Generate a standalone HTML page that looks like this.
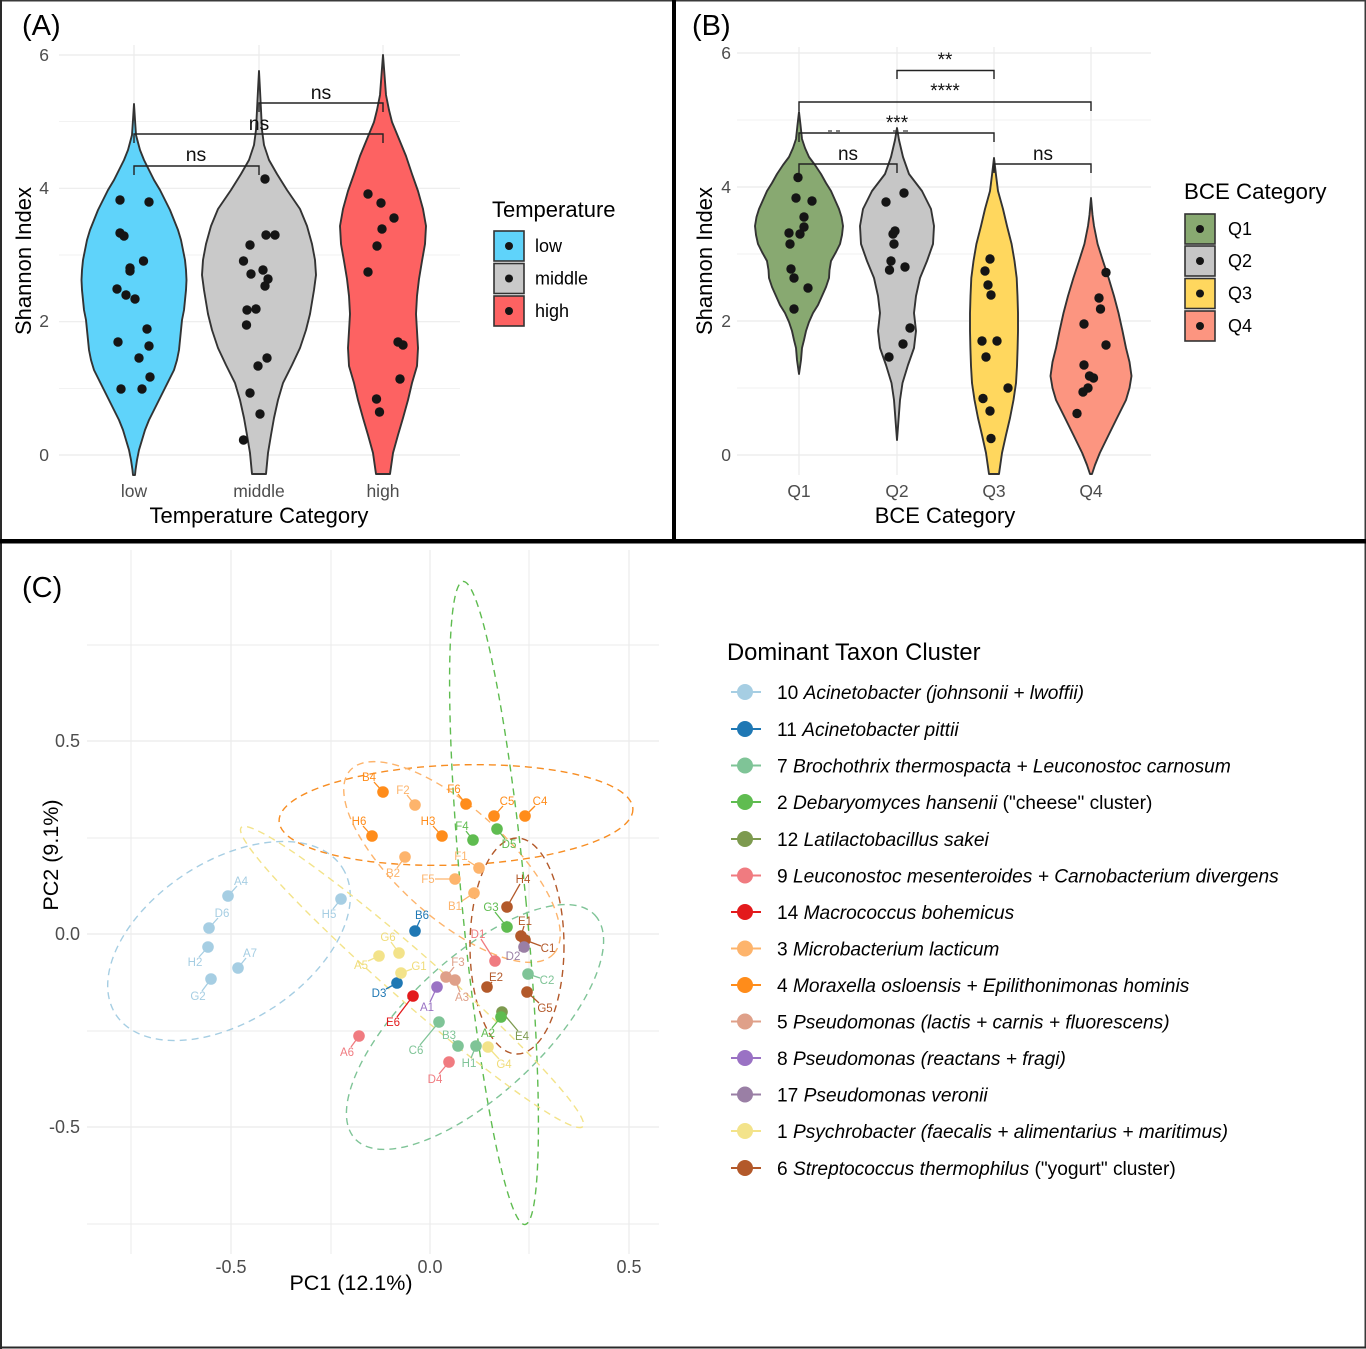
<!DOCTYPE html>
<html>
<head>
<meta charset="utf-8">
<style>
html,body{margin:0;padding:0;background:#fff;}
svg{display:block;}
text{font-family:"Liberation Sans",Arial,sans-serif;}
</style>
</head>
<body>
<svg width="1366" height="1349" viewBox="0 0 1366 1349" xmlns="http://www.w3.org/2000/svg">
<rect x="0" y="0" width="1366" height="1349" fill="#fff"/>

<!-- ================= PANEL A ================= -->
<g stroke="#ebebeb" fill="none">
  <g stroke-width="1.2">
    <line x1="59" y1="455" x2="460" y2="455"/>
    <line x1="59" y1="321.7" x2="460" y2="321.7"/>
    <line x1="59" y1="188.3" x2="460" y2="188.3"/>
    <line x1="59" y1="55" x2="460" y2="55"/>
    <line x1="134" y1="45" x2="134" y2="475"/>
    <line x1="259" y1="45" x2="259" y2="475"/>
    <line x1="383" y1="45" x2="383" y2="475"/>
  </g>
  <g stroke-width="0.7">
    <line x1="59" y1="388.3" x2="460" y2="388.3"/>
    <line x1="59" y1="255" x2="460" y2="255"/>
    <line x1="59" y1="121.7" x2="460" y2="121.7"/>
  </g>
</g>

<g stroke="#333" stroke-width="1.9" stroke-linejoin="round">
<path fill="#5fd3fa" d="M134,104 L135,120 L136,135 L140,150 L144,160 L149,170 L154,180 L160,190 L165,200 L170,210 L174,220 L178,230 L181,240 L183,250 L185,260 L186,270 L186.5,280 L186,290 L185,300 L184,310 L182,320 L181,330 L180,340 L179,350 L177,360 L174,370 L169,380 L164,390 L159,400 L154,410 L149,420 L145,430 L142,440 L139,450 L137,460 L135.5,470 L135,475 L133,475 L132.5,470 L131,460 L129,450 L126,440 L123,430 L119,420 L114,410 L109,400 L104,390 L99,380 L94,370 L91,360 L89,350 L88,340 L87,330 L86,320 L84,310 L83,300 L82,290 L81.5,280 L82,270 L83,260 L85,250 L87,240 L90,230 L94,220 L98,210 L103,200 L108,190 L114,180 L119,170 L124,160 L128,150 L132,135 L133,120 Z"/>
<path fill="#c9c9c9" d="M259,71 L260,90 L261,110 L262,130 L264,145 L269,160 L277,174 L287,190 L300,209 L307,226 L312,244 L315,260 L316,275 L314,290 L310,314 L306,330 L300,348 L292,365 L283,383 L278,400 L274,418 L271,435 L268,453 L266,474 L252,474 L250,453 L247,435 L244,418 L240,400 L235,383 L226,365 L218,348 L212,330 L208,314 L204,290 L202,275 L203,260 L206,244 L211,226 L218,209 L231,190 L241,174 L249,160 L254,145 L256,130 L257,110 L258,90 Z"/>
<path fill="#fd6262" d="M383,55 L384.5,75 L386,95 L389,110 L392,122 L399,139 L406,156 L412,174 L418,191 L423,209 L426,226 L425,244 L422,261 L419,279 L417,296 L416,314 L417,331 L418,348 L417,366 L412,383 L408,400 L403,418 L398,435 L393,453 L390,474 L376,474 L373,453 L368,435 L363,418 L358,400 L354,383 L349,366 L348,348 L349,331 L350,314 L349,296 L347,279 L344,261 L341,244 L340,226 L343,209 L348,191 L354,174 L360,156 L367,139 L374,122 L377,110 L380,95 L381.5,75 Z"/>
</g>

<g fill="#151515">
<circle cx="120" cy="200" r="4.7"/><circle cx="149" cy="202" r="4.7"/><circle cx="120" cy="233" r="4.7"/><circle cx="124" cy="236" r="4.7"/><circle cx="143.5" cy="261" r="4.7"/><circle cx="130" cy="268" r="4.7"/><circle cx="130" cy="271" r="4.7"/><circle cx="117" cy="289" r="4.7"/><circle cx="126" cy="295" r="4.7"/><circle cx="135" cy="299" r="4.7"/><circle cx="147" cy="329" r="4.7"/><circle cx="118" cy="342" r="4.7"/><circle cx="149" cy="346" r="4.7"/><circle cx="139" cy="358" r="4.7"/><circle cx="150" cy="377" r="4.7"/><circle cx="121" cy="389" r="4.7"/><circle cx="142" cy="389" r="4.7"/>
<circle cx="265" cy="179" r="4.7"/><circle cx="250" cy="245" r="4.7"/><circle cx="266" cy="235" r="4.7"/><circle cx="275" cy="235" r="4.7"/><circle cx="243.5" cy="261" r="4.7"/><circle cx="251" cy="274" r="4.7"/><circle cx="263" cy="270" r="4.7"/><circle cx="268" cy="279" r="4.7"/><circle cx="265" cy="286" r="4.7"/><circle cx="247" cy="310" r="4.7"/><circle cx="256" cy="309" r="4.7"/><circle cx="246.5" cy="325" r="4.7"/><circle cx="267" cy="358" r="4.7"/><circle cx="258" cy="366" r="4.7"/><circle cx="250" cy="393" r="4.7"/><circle cx="260" cy="414" r="4.7"/><circle cx="243.5" cy="440" r="4.7"/>
<circle cx="368" cy="194" r="4.7"/><circle cx="381" cy="203" r="4.7"/><circle cx="394" cy="218" r="4.7"/><circle cx="382" cy="229" r="4.7"/><circle cx="377" cy="246" r="4.7"/><circle cx="368" cy="272" r="4.7"/><circle cx="398" cy="342" r="4.7"/><circle cx="403" cy="345" r="4.7"/><circle cx="400" cy="379" r="4.7"/><circle cx="376.5" cy="399" r="4.7"/><circle cx="379.5" cy="412" r="4.7"/>
</g>

<!-- brackets A -->
<g stroke="#222" stroke-width="1.4" fill="none">
<path d="M134,175 V166 H259 V175"/>
<path d="M134,143 V134 H383 V143"/>
<path d="M259,112 V103 H383 V112"/>
</g>
<g font-size="19.5" fill="#111" text-anchor="middle">
<text x="196" y="161">ns</text>
<text x="259" y="130">ns</text>
<text x="321" y="99">ns</text>
</g>

<!-- axes A -->
<g font-size="17.5" fill="#4d4d4d" text-anchor="end">
<text x="49" y="61">6</text>
<text x="49" y="194">4</text>
<text x="49" y="327">2</text>
<text x="49" y="461">0</text>
</g>
<g font-size="17.5" fill="#4d4d4d" text-anchor="middle">
<text x="134" y="497">low</text>
<text x="259" y="497">middle</text>
<text x="383" y="497">high</text>
</g>
<text x="259" y="523" font-size="22" text-anchor="middle" fill="#000">Temperature Category</text>
<text transform="translate(31,261) rotate(-90)" font-size="22" text-anchor="middle" fill="#000">Shannon Index</text>
<text x="22" y="35" font-size="29" fill="#000">(A)</text>

<!-- legend A -->
<text x="492" y="217" font-size="22" fill="#000">Temperature</text>
<g stroke="#333" stroke-width="1.6">
<rect x="494" y="231" width="30" height="30" fill="#5fd3fa"/>
<rect x="494" y="263.5" width="30" height="30" fill="#c9c9c9"/>
<rect x="494" y="296" width="30" height="30" fill="#fd6262"/>
</g>
<g fill="#151515">
<circle cx="509" cy="246" r="4"/><circle cx="509" cy="278.5" r="4"/><circle cx="509" cy="311" r="4"/>
</g>
<g font-size="18" fill="#000">
<text x="535" y="252">low</text>
<text x="535" y="284.5">middle</text>
<text x="535" y="317">high</text>
</g>

<!-- ================= PANEL B ================= -->
<g stroke="#ebebeb" fill="none">
  <g stroke-width="1.2">
    <line x1="737" y1="455" x2="1151" y2="455"/>
    <line x1="737" y1="321" x2="1151" y2="321"/>
    <line x1="737" y1="187" x2="1151" y2="187"/>
    <line x1="737" y1="53" x2="1151" y2="53"/>
    <line x1="799" y1="47" x2="799" y2="475"/>
    <line x1="897" y1="47" x2="897" y2="475"/>
    <line x1="994" y1="47" x2="994" y2="475"/>
    <line x1="1091" y1="47" x2="1091" y2="475"/>
  </g>
  <g stroke-width="0.7">
    <line x1="737" y1="388" x2="1151" y2="388"/>
    <line x1="737" y1="254" x2="1151" y2="254"/>
    <line x1="737" y1="120" x2="1151" y2="120"/>
  </g>
</g>

<g stroke="#333" stroke-width="1.9" stroke-linejoin="round">
<path fill="#88a971" d="M799,112 L800.5,125 L802,139 L805,148 L809,157 L815,165 L821,174 L826,183 L831,191 L835,200 L839,209 L841.5,217 L843,226 L842,235 L840,244 L836,252 L831,261 L829.5,270 L829,278 L826,287 L822,296 L818,305 L813,313 L809,322 L806,331 L804,340 L802,348 L801,360 L799,374 L797,360 L796,348 L794,340 L792,331 L789,322 L785,313 L780,305 L776,296 L772,287 L769,278 L768.5,270 L767,261 L762,252 L758,244 L756,235 L755,226 L756.5,217 L759,209 L763,200 L767,191 L772,183 L777,174 L783,165 L789,157 L793,148 L796,139 L797.5,125 Z"/>
<path fill="#c6c6c6" d="M897,128 L899,140 L903,157 L909,174 L922,191 L931,209 L934,226 L933,244 L927,261 L920,278 L916,296 L914,313 L916,331 L914,348 L908,365 L902.5,383 L900,400 L898.5,420 L897,440 L895.5,420 L894,400 L891.5,383 L886,365 L880,348 L878,331 L880,313 L878,296 L874,278 L867,261 L861,244 L860,226 L863,209 L872,191 L885,174 L891,157 L895,140 Z"/>
<path fill="#ffd75e" d="M994,158 L996,175 L998,191 L1003,209 L1007,226 L1011.6,244 L1014.5,261 L1016.7,278 L1017.5,296 L1018,313 L1018,331 L1017.6,348 L1017,366 L1016,383 L1013.5,400 L1010,418 L1006,435 L1002,453 L999,474 L989,474 L986,453 L982,435 L978,418 L974.5,400 L972,383 L971,366 L970.4,348 L970,331 L970,313 L970.5,296 L971.3,278 L973.5,261 L976.4,244 L981,226 L985,209 L990,191 L992,175 Z"/>
<path fill="#fc9580" d="M1091,198 L1092.5,215 L1094,226 L1097.6,244 L1103,261 L1108.6,278 L1114,296 L1118.5,313 L1122.5,331 L1126,348 L1129.5,362 L1131.5,376 L1129.5,388 L1126,400 L1117,418 L1108.6,435 L1099.8,453 L1095,465 L1092,474 L1090,474 L1087,465 L1082.2,453 L1073.4,435 L1065,418 L1056,400 L1052.5,388 L1050.5,376 L1052.5,362 L1056,348 L1059.5,331 L1063.5,313 L1068,296 L1073.4,278 L1079,261 L1084.4,244 L1088,226 L1089.5,215 Z"/>
</g>

<g fill="#151515">
<circle cx="798" cy="177.5" r="4.7"/><circle cx="796" cy="198" r="4.7"/><circle cx="812" cy="201" r="4.7"/><circle cx="804" cy="217" r="4.7"/><circle cx="804" cy="227" r="4.7"/><circle cx="800" cy="234" r="4.7"/><circle cx="789" cy="233" r="4.7"/><circle cx="790" cy="244" r="4.7"/><circle cx="791" cy="269" r="4.7"/><circle cx="794" cy="278" r="4.7"/><circle cx="808" cy="288" r="4.7"/><circle cx="794" cy="309" r="4.7"/>
<circle cx="904" cy="193" r="4.7"/><circle cx="886" cy="202" r="4.7"/><circle cx="893" cy="234" r="4.7"/><circle cx="895" cy="231" r="4.7"/><circle cx="894" cy="244" r="4.7"/><circle cx="891" cy="261" r="4.7"/><circle cx="889.5" cy="270" r="4.7"/><circle cx="905" cy="267" r="4.7"/><circle cx="910" cy="328" r="4.7"/><circle cx="903" cy="344" r="4.7"/><circle cx="889" cy="357" r="4.7"/>
<circle cx="990" cy="259" r="4.7"/><circle cx="985" cy="271" r="4.7"/><circle cx="988" cy="285" r="4.7"/><circle cx="991" cy="295" r="4.7"/><circle cx="982" cy="341" r="4.7"/><circle cx="997" cy="341" r="4.7"/><circle cx="986" cy="357" r="4.7"/><circle cx="1008" cy="388" r="4.7"/><circle cx="983" cy="398.5" r="4.7"/><circle cx="990" cy="411" r="4.7"/><circle cx="991" cy="438.5" r="4.7"/>
<circle cx="1106" cy="272.5" r="4.7"/><circle cx="1099" cy="298" r="4.7"/><circle cx="1100.5" cy="309" r="4.7"/><circle cx="1084" cy="324" r="4.7"/><circle cx="1106" cy="345" r="4.7"/><circle cx="1084" cy="365" r="4.7"/><circle cx="1089.5" cy="376" r="4.7"/><circle cx="1093.5" cy="378" r="4.7"/><circle cx="1088" cy="388" r="4.7"/><circle cx="1083" cy="392" r="4.7"/><circle cx="1077" cy="413.5" r="4.7"/>
</g>

<!-- brackets B -->
<g stroke="#222" stroke-width="1.4" fill="none">
<path d="M897,79 V70.5 H994 V79"/>
<path d="M799,111 V102 H1091 V111"/>
<path d="M799,142 V133 H994 V142"/>
<path d="M799,173 V164 H897 V173"/>
<path d="M994,173 V164 H1091 V173"/>
</g>
<g stroke="#333" stroke-width="1.2">
<line x1="828" y1="131" x2="832" y2="131"/><line x1="836" y1="131" x2="840" y2="131"/>
<line x1="893" y1="131" x2="897" y2="131"/><line x1="903" y1="131" x2="908" y2="131"/>
</g>
<g font-size="19" fill="#111" text-anchor="middle">
<text x="945" y="66">**</text>
<text x="945" y="97">****</text>
<text x="897" y="129">***</text>
<text x="848" y="160">ns</text>
<text x="1043" y="160">ns</text>
</g>

<!-- axes B -->
<g font-size="17.5" fill="#4d4d4d" text-anchor="end">
<text x="731" y="59">6</text>
<text x="731" y="193">4</text>
<text x="731" y="327">2</text>
<text x="731" y="461">0</text>
</g>
<g font-size="17.5" fill="#4d4d4d" text-anchor="middle">
<text x="799" y="497">Q1</text>
<text x="897" y="497">Q2</text>
<text x="994" y="497">Q3</text>
<text x="1091" y="497">Q4</text>
</g>
<text x="945" y="523" font-size="22" text-anchor="middle" fill="#000">BCE Category</text>
<text transform="translate(712,261) rotate(-90)" font-size="22" text-anchor="middle" fill="#000">Shannon Index</text>
<text x="692" y="35" font-size="29" fill="#000">(B)</text>

<!-- legend B -->
<text x="1184" y="199" font-size="22.3" fill="#000">BCE Category</text>
<g stroke="#333" stroke-width="1.6">
<rect x="1185" y="214" width="30" height="30" fill="#88a971"/>
<rect x="1185" y="246" width="30" height="30" fill="#c6c6c6"/>
<rect x="1185" y="278.5" width="30" height="30" fill="#ffd75e"/>
<rect x="1185" y="311" width="30" height="30" fill="#fc9580"/>
</g>
<g fill="#151515">
<circle cx="1200" cy="229" r="4"/><circle cx="1200" cy="261" r="4"/><circle cx="1200" cy="293.5" r="4"/><circle cx="1200" cy="326" r="4"/>
</g>
<g font-size="18" fill="#000">
<text x="1228" y="235">Q1</text>
<text x="1228" y="267">Q2</text>
<text x="1228" y="299.5">Q3</text>
<text x="1228" y="332">Q4</text>
</g>

<!-- ================= PANEL C ================= -->
<g stroke="#ebebeb" fill="none" stroke-width="1">
<line x1="131" y1="550" x2="131" y2="1254"/>
<line x1="231" y1="550" x2="231" y2="1254" stroke-width="1.2"/>
<line x1="331" y1="550" x2="331" y2="1254"/>
<line x1="430" y1="550" x2="430" y2="1254" stroke-width="1.2"/>
<line x1="529" y1="550" x2="529" y2="1254"/>
<line x1="629" y1="550" x2="629" y2="1254" stroke-width="1.2"/>
<line x1="87" y1="645" x2="659" y2="645"/>
<line x1="87" y1="741" x2="659" y2="741" stroke-width="1.2"/>
<line x1="87" y1="838" x2="659" y2="838"/>
<line x1="87" y1="934" x2="659" y2="934" stroke-width="1.2"/>
<line x1="87" y1="1031" x2="659" y2="1031"/>
<line x1="87" y1="1127" x2="659" y2="1127" stroke-width="1.2"/>
<line x1="87" y1="1224" x2="659" y2="1224"/>
</g>

<!-- ellipses -->
<g fill="none" stroke-width="1.4" stroke-dasharray="7 5">
<ellipse cx="229" cy="941" rx="135" ry="80" transform="rotate(-33 229 941)" stroke="#a6cee3"/>
<ellipse cx="456" cy="815" rx="177" ry="50" transform="rotate(-2 456 815)" stroke="#f78d22"/>
<ellipse cx="452" cy="862" rx="137" ry="55" transform="rotate(42 452 862)" stroke="#fdb46c"/>
<ellipse cx="494" cy="903" rx="32" ry="323" transform="rotate(-5.5 494 903)" stroke="#5fbc50"/>
<ellipse cx="475" cy="1027" rx="164" ry="68" transform="rotate(-43 475 1027)" stroke="#7fc497"/>
<ellipse cx="517" cy="946" rx="47" ry="108" stroke="#b3592a"/>
<ellipse cx="412" cy="977" rx="227" ry="24" transform="rotate(41.2 412 977)" stroke="#f3e38a"/>
</g>

<!-- segments -->
<g stroke-width="1.3" fill="none">
<g stroke="#a6cee3">
<line x1="228" y1="896" x2="237" y2="886"/><line x1="209" y1="928" x2="218" y2="918"/><line x1="208" y1="947" x2="199" y2="957"/><line x1="238" y1="968" x2="246" y2="958"/><line x1="211" y1="979" x2="202" y2="991"/><line x1="341" y1="899" x2="333" y2="909"/>
</g>
<g stroke="#1f78b4"><line x1="415" y1="931" x2="420" y2="920"/><line x1="397" y1="983" x2="386" y2="989"/></g>
<g stroke="#7fc497"><line x1="528" y1="974" x2="540" y2="978"/><line x1="439" y1="1022" x2="420" y2="1045"/><line x1="458" y1="1046" x2="453" y2="1040"/><line x1="476" y1="1046" x2="471" y2="1058"/></g>
<g stroke="#5fbc50"><line x1="473" y1="840" x2="466" y2="831"/><line x1="497" y1="829" x2="505" y2="839"/><line x1="507" y1="927" x2="495" y2="912"/><line x1="501" y1="1017" x2="492" y2="1028"/></g>
<g stroke="#7d9a4f"><line x1="502" y1="1012" x2="518" y2="1031"/></g>
<g stroke="#f07b80"><line x1="359" y1="1036" x2="351" y2="1047"/><line x1="449" y1="1062" x2="439" y2="1074"/><line x1="495" y1="961" x2="481" y2="939"/></g>
<g stroke="#e31a1c"><line x1="413" y1="996" x2="397" y2="1017"/></g>
<g stroke="#fdb46c"><line x1="415" y1="805" x2="407" y2="795"/><line x1="405" y1="857" x2="397" y2="868"/><line x1="479" y1="868" x2="468" y2="861"/><line x1="455" y1="879" x2="435" y2="879"/><line x1="474" y1="893" x2="462" y2="901"/></g>
<g stroke="#ff8c1a"><line x1="383" y1="792" x2="374" y2="782"/><line x1="466" y1="804" x2="458" y2="794"/><line x1="494" y1="816" x2="503" y2="806"/><line x1="525" y1="816" x2="535" y2="806"/><line x1="372" y1="836" x2="363" y2="826"/><line x1="442" y1="836" x2="433" y2="826"/></g>
<g stroke="#dfa089"><line x1="446" y1="977" x2="454" y2="967"/><line x1="455" y1="980" x2="460" y2="992"/></g>
<g stroke="#9a72c4"><line x1="437" y1="987" x2="430" y2="1002"/></g>
<g stroke="#9a7fa5"><line x1="524" y1="947" x2="519" y2="951"/></g>
<g stroke="#f3e38a"><line x1="399" y1="953" x2="391" y2="942"/><line x1="379" y1="956" x2="368" y2="961"/><line x1="401" y1="973" x2="412" y2="969"/><line x1="488" y1="1047" x2="499" y2="1059"/></g>
<g stroke="#b3592a"><line x1="507" y1="907" x2="520" y2="884"/><line x1="521" y1="936" x2="524" y2="926"/><line x1="525" y1="940" x2="541" y2="946"/><line x1="487" y1="987" x2="492" y2="982"/><line x1="527" y1="992" x2="539" y2="1003"/></g>
</g>

<!-- points -->
<g>
<g fill="#a6cee3"><circle cx="228" cy="896" r="5.8"/><circle cx="209" cy="928" r="5.8"/><circle cx="208" cy="947" r="5.8"/><circle cx="238" cy="968" r="5.8"/><circle cx="211" cy="979" r="5.8"/><circle cx="341" cy="899" r="5.8"/></g>
<g fill="#1f78b4"><circle cx="415" cy="931" r="5.8"/><circle cx="397" cy="983" r="5.8"/></g>
<g fill="#7fc497"><circle cx="528" cy="974" r="5.8"/><circle cx="439" cy="1022" r="5.8"/><circle cx="458" cy="1046" r="5.8"/><circle cx="476" cy="1046" r="5.8"/></g>
<g fill="#5fbc50"><circle cx="473" cy="840" r="5.8"/><circle cx="497" cy="829" r="5.8"/><circle cx="507" cy="927" r="5.8"/></g>
<g fill="#7d9a4f"><circle cx="502" cy="1012" r="5.8"/></g>
<g fill="#5fbc50"><circle cx="501" cy="1017" r="5.8"/></g>
<g fill="#f07b80"><circle cx="359" cy="1036" r="5.8"/><circle cx="449" cy="1062" r="5.8"/><circle cx="495" cy="961" r="5.8"/></g>
<g fill="#e31a1c"><circle cx="413" cy="996" r="5.8"/></g>
<g fill="#fdb46c"><circle cx="415" cy="805" r="5.8"/><circle cx="405" cy="857" r="5.8"/><circle cx="479" cy="868" r="5.8"/><circle cx="455" cy="879" r="5.8"/><circle cx="474" cy="893" r="5.8"/></g>
<g fill="#ff8c1a"><circle cx="383" cy="792" r="5.8"/><circle cx="466" cy="804" r="5.8"/><circle cx="494" cy="816" r="5.8"/><circle cx="525" cy="816" r="5.8"/><circle cx="372" cy="836" r="5.8"/><circle cx="442" cy="836" r="5.8"/></g>
<g fill="#dfa089"><circle cx="446" cy="977" r="5.8"/><circle cx="455" cy="980" r="5.8"/></g>
<g fill="#9a72c4"><circle cx="437" cy="987" r="5.8"/></g>
<g fill="#f3e38a"><circle cx="399" cy="953" r="5.8"/><circle cx="379" cy="956" r="5.8"/><circle cx="401" cy="973" r="5.8"/><circle cx="488" cy="1047" r="5.8"/></g>
<g fill="#b3592a"><circle cx="507" cy="907" r="5.8"/><circle cx="521" cy="936" r="5.8"/><circle cx="525" cy="940" r="5.8"/><circle cx="487" cy="987" r="5.8"/><circle cx="527" cy="992" r="5.8"/></g>
<g fill="#9a7fa5"><circle cx="524" cy="947" r="5.8"/></g>
</g>

<!-- point labels -->
<g font-size="11.5" text-anchor="middle">
<g fill="#a6cee3"><text x="241" y="885">A4</text><text x="222" y="917">D6</text><text x="195" y="966">H2</text><text x="250" y="957">A7</text><text x="198" y="1000">G2</text><text x="329" y="918">H5</text></g>
<g fill="#1f78b4"><text x="422" y="919">B6</text><text x="379" y="997">D3</text></g>
<g fill="#7fc497"><text x="547" y="984">C2</text><text x="416" y="1054">C6</text><text x="449" y="1039">B3</text><text x="469" y="1067">H1</text></g>
<g fill="#5fbc50"><text x="462" y="830">F4</text><text x="509" y="848">D5</text><text x="491" y="911">G3</text><text x="488" y="1037">A2</text></g>
<g fill="#7d9a4f"><text x="522" y="1040">E4</text></g>
<g fill="#f07b80"><text x="347" y="1056">A6</text><text x="435" y="1083">D4</text><text x="478" y="938">D1</text></g>
<g fill="#e31a1c"><text x="393" y="1026">E6</text></g>
<g fill="#fdb46c"><text x="403" y="794">F2</text><text x="393" y="877">B2</text><text x="461" y="860">F1</text><text x="428" y="883">F5</text><text x="455" y="910">B1</text></g>
<g fill="#ff8c1a"><text x="369" y="781">B4</text><text x="454" y="793">F6</text><text x="507" y="805">C5</text><text x="540" y="805">C4</text><text x="359" y="825">H6</text><text x="428" y="825">H3</text></g>
<g fill="#dfa089"><text x="458" y="966">F3</text><text x="462" y="1001">A3</text></g>
<g fill="#9a72c4"><text x="427" y="1011">A1</text></g>
<g fill="#9a7fa5"><text x="513" y="960">D2</text></g>
<g fill="#f0dc78"><text x="388" y="941">G6</text><text x="361" y="969">A5</text><text x="419" y="970">G1</text><text x="504" y="1068">G4</text></g>
<g fill="#b3592a"><text x="523" y="883">H4</text><text x="525" y="925">E1</text><text x="548" y="952">C1</text><text x="496" y="981">E2</text><text x="545" y="1012">G5</text></g>
</g>

<!-- axes C -->
<g font-size="18" fill="#4d4d4d" text-anchor="end">
<text x="80" y="747">0.5</text>
<text x="80" y="940">0.0</text>
<text x="80" y="1133">-0.5</text>
</g>
<g font-size="18" fill="#4d4d4d" text-anchor="middle">
<text x="231" y="1273">-0.5</text>
<text x="430" y="1273">0.0</text>
<text x="629" y="1273">0.5</text>
</g>
<text x="351" y="1290" font-size="21.5" text-anchor="middle" fill="#000">PC1 (12.1%)</text>
<text transform="translate(58,855) rotate(-90)" font-size="21.5" text-anchor="middle" fill="#000">PC2 (9.1%)</text>
<text x="22" y="597" font-size="29" fill="#000">(C)</text>

<!-- legend C -->
<text x="727" y="660" font-size="23.8" fill="#000">Dominant Taxon Cluster</text>
<g stroke-width="2">
<line x1="731" y1="692" x2="761" y2="692" stroke="#a6cee3"/>
<line x1="731" y1="729" x2="761" y2="729" stroke="#1f78b4"/>
<line x1="731" y1="765.5" x2="761" y2="765.5" stroke="#7fc497"/>
<line x1="731" y1="802" x2="761" y2="802" stroke="#5fbc50"/>
<line x1="731" y1="839" x2="761" y2="839" stroke="#7d9a4f"/>
<line x1="731" y1="875.5" x2="761" y2="875.5" stroke="#f07b80"/>
<line x1="731" y1="912" x2="761" y2="912" stroke="#e31a1c"/>
<line x1="731" y1="948.5" x2="761" y2="948.5" stroke="#fdb46c"/>
<line x1="731" y1="985" x2="761" y2="985" stroke="#ff8c1a"/>
<line x1="731" y1="1021.5" x2="761" y2="1021.5" stroke="#dfa089"/>
<line x1="731" y1="1058" x2="761" y2="1058" stroke="#9a72c4"/>
<line x1="731" y1="1094.5" x2="761" y2="1094.5" stroke="#9a7fa5"/>
<line x1="731" y1="1131" x2="761" y2="1131" stroke="#f3e38a"/>
<line x1="731" y1="1168" x2="761" y2="1168" stroke="#b3592a"/>
</g>
<g>
<circle cx="745" cy="692" r="8" fill="#a6cee3"/>
<circle cx="745" cy="729" r="8" fill="#1f78b4"/>
<circle cx="745" cy="765.5" r="8" fill="#7fc497"/>
<circle cx="745" cy="802" r="8" fill="#5fbc50"/>
<circle cx="745" cy="839" r="8" fill="#7d9a4f"/>
<circle cx="745" cy="875.5" r="8" fill="#f07b80"/>
<circle cx="745" cy="912" r="8" fill="#e31a1c"/>
<circle cx="745" cy="948.5" r="8" fill="#fdb46c"/>
<circle cx="745" cy="985" r="8" fill="#ff8c1a"/>
<circle cx="745" cy="1021.5" r="8" fill="#dfa089"/>
<circle cx="745" cy="1058" r="8" fill="#9a72c4"/>
<circle cx="745" cy="1094.5" r="8" fill="#9a7fa5"/>
<circle cx="745" cy="1131" r="8" fill="#f3e38a"/>
<circle cx="745" cy="1168" r="8" fill="#b3592a"/>
</g>
<g font-size="19.15" fill="#000">
<text x="777" y="699">10 <tspan font-style="italic">Acinetobacter (johnsonii + lwoffii)</tspan></text>
<text x="777" y="736">11 <tspan font-style="italic">Acinetobacter pittii</tspan></text>
<text x="777" y="772.5">7 <tspan font-style="italic">Brochothrix thermospacta + Leuconostoc carnosum</tspan></text>
<text x="777" y="809">2 <tspan font-style="italic">Debaryomyces hansenii</tspan> ("cheese" cluster)</text>
<text x="777" y="846">12 <tspan font-style="italic">Latilactobacillus sakei</tspan></text>
<text x="777" y="882.5">9 <tspan font-style="italic">Leuconostoc mesenteroides + Carnobacterium divergens</tspan></text>
<text x="777" y="919">14 <tspan font-style="italic">Macrococcus bohemicus</tspan></text>
<text x="777" y="955.5">3 <tspan font-style="italic">Microbacterium lacticum</tspan></text>
<text x="777" y="992">4 <tspan font-style="italic">Moraxella osloensis + Epilithonimonas hominis</tspan></text>
<text x="777" y="1028.5">5 <tspan font-style="italic">Pseudomonas (lactis + carnis + fluorescens)</tspan></text>
<text x="777" y="1065">8 <tspan font-style="italic">Pseudomonas (reactans + fragi)</tspan></text>
<text x="777" y="1101.5">17 <tspan font-style="italic">Pseudomonas veronii</tspan></text>
<text x="777" y="1138">1 <tspan font-style="italic">Psychrobacter (faecalis + alimentarius + maritimus)</tspan></text>
<text x="777" y="1175">6 <tspan font-style="italic">Streptococcus thermophilus</tspan> ("yogurt" cluster)</text>
</g>

<!-- borders / dividers -->
<rect x="0.75" y="0.75" width="1364.5" height="1347" fill="none" stroke="#3a3a3a" stroke-width="1.5"/>
<line x1="0" y1="1347.5" x2="1366" y2="1347.5" stroke="#2a2a2a" stroke-width="2"/>
<line x1="1" y1="0" x2="1" y2="1349" stroke="#2a2a2a" stroke-width="2"/>
<rect x="672" y="0" width="4" height="541" fill="#000"/>
<rect x="0" y="539" width="1366" height="4.5" fill="#000"/>
</svg>
</body>
</html>
